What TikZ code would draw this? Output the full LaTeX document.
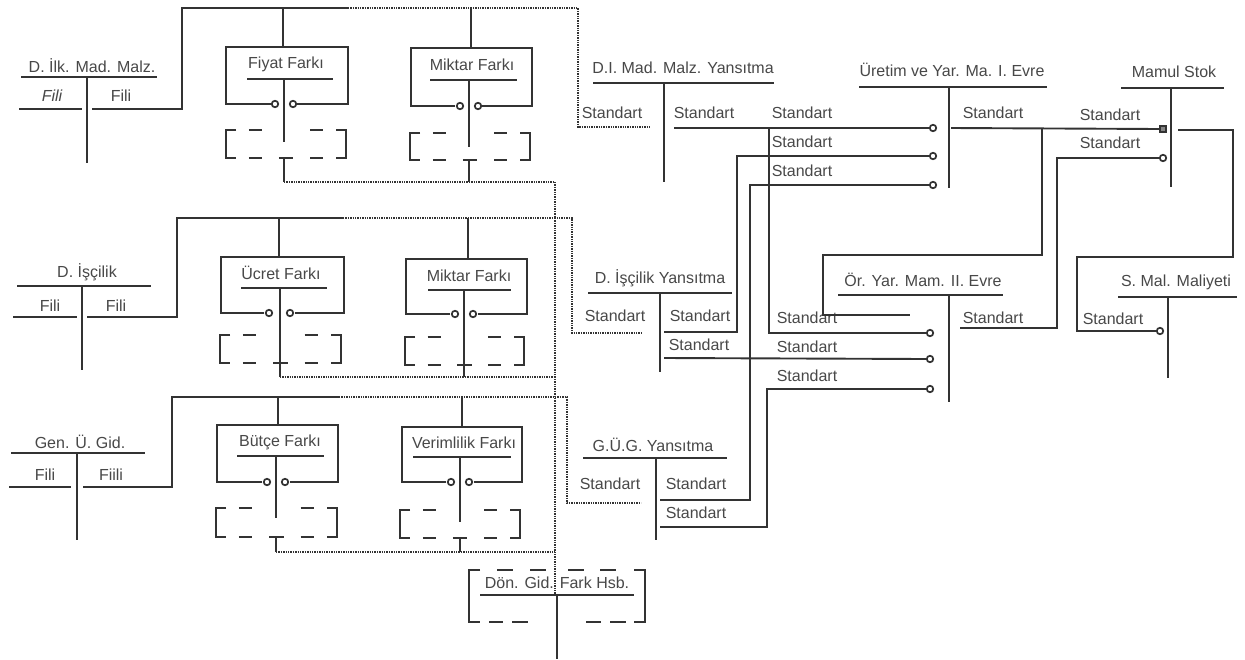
\documentclass[tikz,border=0pt]{standalone}
\usepackage{fontspec}
\setmainfont{Liberation Sans}
\definecolor{ink}{HTML}{333333}
\definecolor{tink}{HTML}{484848}
\tikzset{
  ln/.style={line width=1.9pt, draw=ink},
  dt/.style={line width=2.4pt, draw=ink, dash pattern=on 1.4pt off 1pt},
  db/.style={line width=1.9pt, draw=ink},
  lbl/.style={inner sep=0pt, text=tink, font=\fontsize{16}{18}\selectfont},
  cir/.style={circle, draw=ink, line width=1.7pt, minimum size=6.5pt, inner sep=0pt, fill=white},
  sq/.style={rectangle, draw=ink, line width=1.5pt, minimum size=6pt, inner sep=0pt, fill=ink!60},
}
% dashed bracket box: x1 y1 x2 y2
\newcommand\dbx[4]{%
  \draw[db] ({#1+10},#2) -- (#1,#2) -- (#1,#4) -- ({#1+10},#4);
  \draw[db] ({#3-10},#2) -- (#3,#2) -- (#3,#4) -- ({#3-10},#4);
  \draw[db] ({#1+0.19*(#3-#1)},#2) -- ({#1+0.30*(#3-#1)},#2);
  \draw[db] ({#1+0.70*(#3-#1)},#2) -- ({#1+0.81*(#3-#1)},#2);
  \draw[db] ({#1+0.19*(#3-#1)},#4) -- ({#1+0.30*(#3-#1)},#4);
  \draw[db] ({#1+0.44*(#3-#1)},#4) -- ({#1+0.56*(#3-#1)},#4);
  \draw[db] ({#1+0.70*(#3-#1)},#4) -- ({#1+0.81*(#3-#1)},#4);
}
\begin{document}
\begin{tikzpicture}[x=1pt,y=-1pt]
\useasboundingbox[fill=white] (0,0) rectangle (1245,659);

% ================= Row 1 : D. Ilk. Mad. Malz. =================
\node[lbl] (t1) at (92,66) {D. İlk. Mad. Malz.};
\draw[ln] (21,77) -- (157,77);
\draw[ln] (87,77) -- (87,163);
\node[lbl,font=\fontsize{16}{18}\selectfont\itshape] (t1a) at (52,96) {Fili};
\node[lbl] (t1b) at (121,96) {Fili};
\draw[ln] (19,109) -- (82,109);
\draw[ln] (92,109) -- (182,109) -- (182,8) -- (348,8);
\draw[dt] (348,8) -- (578,8) -- (578,127) -- (650,127);
\draw[ln] (283,8) -- (283,47);
\draw[ln] (471,8) -- (471,48);
% Fiyat Farki
\draw[ln] (271,104) -- (226,104) -- (226,47) -- (348,47) -- (348,104) -- (297,104);
\node[lbl] (f1) at (286,64) {Fiyat Farkı};
\draw[ln] (247,79) -- (333,79);
\draw[ln] (284,79) -- (284,142);
\node[cir] (f1c1) at (275,104) {};
\node[cir] (f1c2) at (293,104) {};
\dbx{226}{130}{346}{158}
\draw[ln] (284,158) -- (284,182);
% Miktar Farki 1
\draw[ln] (455,106) -- (411,106) -- (411,48) -- (532,48) -- (532,106) -- (482,106);
\node[lbl] (m1) at (472,65) {Miktar Farkı};
\draw[ln] (430,80) -- (517,80);
\draw[ln] (469,80) -- (469,147);
\node[cir] (m1c1) at (460,106) {};
\node[cir] (m1c2) at (478,106) {};
\dbx{410}{133}{530}{160}
\draw[ln] (469,160) -- (469,182);
\draw[dt] (284,182) -- (555,182);

% ================= Row 2 : D. Iscilik =================
\node[lbl] (t2) at (87,272) {D. İşçilik};
\draw[ln] (17,286) -- (151,286);
\draw[ln] (82,286) -- (82,370);
\node[lbl] (t2a) at (50,306) {Fili};
\node[lbl] (t2b) at (116,306) {Fili};
\draw[ln] (13,317) -- (77,317);
\draw[ln] (87,317) -- (177,317) -- (177,218) -- (343,218);
\draw[dt] (343,218) -- (572,218) -- (572,333) -- (643,333);
\draw[ln] (279,218) -- (279,257);
\draw[ln] (468,218) -- (468,259);
% Ucret Farki
\draw[ln] (264,313) -- (221,313) -- (221,257) -- (344,257) -- (344,313) -- (295,313);
\node[lbl] (u2) at (281,273) {Ücret Farkı};
\draw[ln] (241,288) -- (327,288);
\draw[ln] (280,288) -- (280,377);
\node[cir] (u2c1) at (269,313) {};
\node[cir] (u2c2) at (290,313) {};
\dbx{220}{335}{341}{363}
% Miktar Farki 2
\draw[ln] (450,314) -- (406,314) -- (406,259) -- (527,259) -- (527,314) -- (478,314);
\node[lbl] (m2) at (469,276) {Miktar Farkı};
\draw[ln] (428,290) -- (511,290);
\draw[ln] (464,290) -- (464,377);
\node[cir] (m2c1) at (455,314) {};
\node[cir] (m2c2) at (473,314) {};
\dbx{405}{337}{524}{365}
\draw[dt] (280,377) -- (555,377);

% ================= Row 3 : Gen. U. Gid. =================
\node[lbl] (t3) at (80,442) {Gen. Ü. Gid.};
\draw[ln] (11,453) -- (145,453);
\draw[ln] (77,453) -- (77,540);
\node[lbl] (t3a) at (45,475) {Fili};
\node[lbl] (t3b) at (111,475) {Fiili};
\draw[ln] (9,487) -- (71,487);
\draw[ln] (83,487) -- (172,487) -- (172,397) -- (339,397);
\draw[dt] (339,397) -- (567,397) -- (567,503) -- (641,503);
\draw[ln] (278,397) -- (278,425);
\draw[ln] (462,397) -- (462,427);
% Butce Farki
\draw[ln] (262,482) -- (217,482) -- (217,425) -- (338,425) -- (338,482) -- (290,482);
\node[lbl] (b3) at (280,442) {Bütçe Farkı};
\draw[ln] (237,456) -- (324,456);
\draw[ln] (276,456) -- (276,518);
\node[cir] (b3c1) at (267,482) {};
\node[cir] (b3c2) at (285,482) {};
\dbx{216}{508}{337}{537}
\draw[ln] (276,537) -- (276,552);
% Verimlilik Farki
\draw[ln] (446,482) -- (402,482) -- (402,427) -- (522,427) -- (522,482) -- (474,482);
\node[lbl] (v3) at (464,443) {Verimlilik Farkı};
\draw[ln] (413,457) -- (511,457);
\draw[ln] (460,457) -- (460,522);
\node[cir] (v3c1) at (451,482) {};
\node[cir] (v3c2) at (469,482) {};
\dbx{400}{510}{520}{538}
\draw[ln] (460,538) -- (460,552);
\draw[dt] (276,552) -- (555,552);

% collecting line and Don. Gid. Fark Hsb.
\draw[dt] (555,182) -- (555,595);
\node[lbl] (dg) at (557,583) {Dön. Gid. Fark Hsb.};
\draw[ln] (480,595) -- (634,595);
\draw[ln] (557,595) -- (557,659);
\draw[db] (480,570) -- (469,570) -- (469,622) -- (480,622);
\draw[db] (634,570) -- (645,570) -- (645,622) -- (634,622);
\draw[db] (497,570) -- (513,570);
\draw[db] (530,570) -- (546,570);
\draw[db] (568,570) -- (584,570);
\draw[db] (600,570) -- (616,570);
\draw[db] (489,622) -- (503,622);
\draw[db] (512,622) -- (528,622);
\draw[db] (586,622) -- (601,622);
\draw[db] (610,622) -- (626,622);

% ================= Right side =================
% D.I. Mad. Malz. Yansitma
\node[lbl] (dy) at (683,68) {D.I. Mad. Malz. Yansıtma};
\draw[ln] (593,83) -- (774,83);
\draw[ln] (664,83) -- (664,182);
\node[lbl] (dys1) at (612,113) {Standart};
\node[lbl] (dys2) at (704,113) {Standart};

% Uretim ve Yar. Ma. I. Evre
\node[lbl] (ue) at (952,70) {Üretim ve Yar. Ma. I. Evre};
\draw[ln] (859,87) -- (1047,87);
\draw[ln] (949,87) -- (949,188);
\node[lbl] (ues1) at (802,113) {Standart};
\node[lbl] (ues2) at (802,142) {Standart};
\node[lbl] (ues3) at (802,171) {Standart};
\node[lbl] (ues4) at (993,113) {Standart};
\node[cir] (uec1) at (933,128) {};
\node[cir] (uec2) at (933,156) {};
\node[cir] (uec3) at (933,185) {};

% Mamul Stok
\node[lbl] (ms) at (1174,72) {Mamul Stok};
\draw[ln] (1121,88) -- (1224,88);
\draw[ln] (1171,88) -- (1171,187);
\node[lbl] (mss1) at (1110,115) {Standart};
\node[lbl] (mss2) at (1110,143) {Standart};
\node[sq] (msc1) at (1163,129) {};
\node[cir] (msc2) at (1163,158) {};

% Or. Yar. Mam. II. Evre
\node[lbl] (oy) at (923,280) {Ör. Yar. Mam. II. Evre};
\draw[ln] (838,295) -- (1003,295);
\draw[ln] (949,295) -- (949,402);
\node[lbl] (oys1) at (807,318) {Standart};
\node[lbl] (oys2) at (807,347) {Standart};
\node[lbl] (oys3) at (807,376) {Standart};
\node[lbl] (oys4) at (993,318) {Standart};
\node[cir] (oyc1) at (930,333) {};
\node[cir] (oyc2) at (930,359) {};
\node[cir] (oyc3) at (930,389) {};

% S. Mal. Maliyeti
\node[lbl] (sm) at (1176,282) {S. Mal. Maliyeti};
\draw[ln] (1118,297) -- (1237,297);
\draw[ln] (1168,297) -- (1168,378);
\node[lbl] (sms1) at (1113,319) {Standart};
\node[cir] (smc1) at (1160,331) {};

% D. Iscilik Yansitma
\node[lbl] (iy) at (660,278) {D. İşçilik Yansıtma};
\draw[ln] (588,293) -- (732,293);
\draw[ln] (660,293) -- (660,372);
\node[lbl] (iys1) at (615,316) {Standart};
\node[lbl] (iys2) at (700,316) {Standart};
\node[lbl] (iys3) at (699,345) {Standart};

% G.U.G. Yansitma
\node[lbl] (gy) at (653,445) {G.Ü.G. Yansıtma};
\draw[ln] (583,458) -- (727,458);
\draw[ln] (656,458) -- (656,540);
\node[lbl] (gys1) at (610,484) {Standart};
\node[lbl] (gys2) at (696,484) {Standart};
\node[lbl] (gys3) at (696,513) {Standart};

% ---- transfers ----
\draw[ln] (674,128) -- (uec1.west);
\draw[ln] (769,128) -- (769,333) -- (oyc1.west);
\draw[ln] (664,332) -- (737,332) -- (737,156) -- (uec2.west);
\draw[ln] (660,500) -- (750,500) -- (750,185) -- (uec3.west);
\draw[ln] (664,358) -- (oyc2.west);
\draw[ln] (660,527) -- (767,527) -- (767,389) -- (oyc3.west);
\draw[ln] (951,128) -- (msc1.west);
\draw[ln] (1042,128) -- (1042,255) -- (823,255) -- (823,315) -- (910,315);
\draw[ln] (960,328) -- (1057,328) -- (1057,158) -- (msc2.west);
\draw[ln] (1178,130) -- (1233,130) -- (1233,257) -- (1077,257) -- (1077,331) -- (smc1.west);
\end{tikzpicture}
\end{document}
